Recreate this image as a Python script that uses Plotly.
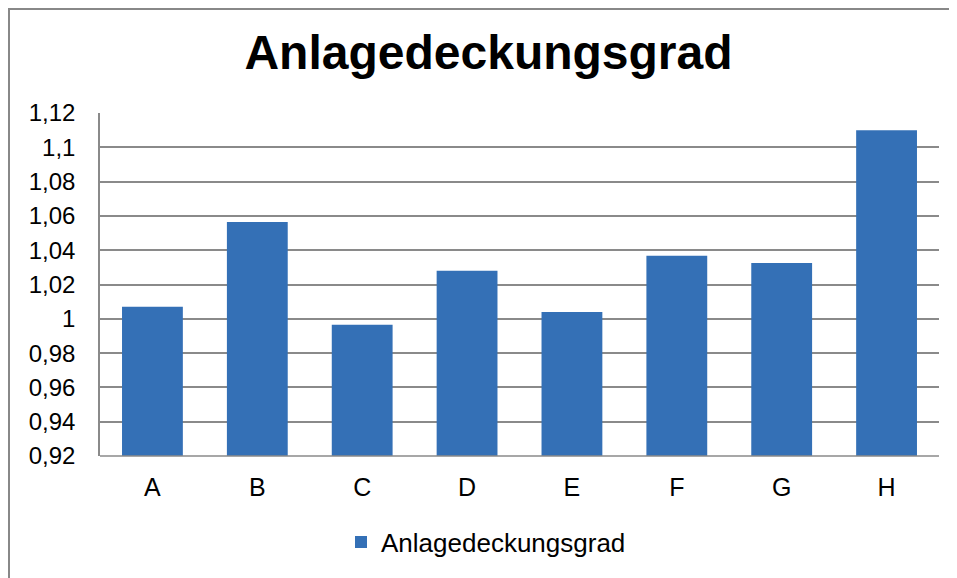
import plotly.graph_objects as go

categories = ["A", "B", "C", "D", "E", "F", "G", "H"]
values = [1.007, 1.0565, 0.9965, 1.028, 1.004, 1.0367, 1.0326, 1.110]
series_name = "Anlagedeckungsgrad"
title_text = "Anlagedeckungsgrad"

# page has an 8px body margin; layout is computed in figure pixels
OFF = 8
W, H = 957 - OFF, 578 - OFF
L, R, T, B = 100 - OFF, 18, 113 - OFF, 122
pw, ph = W - L - R, H - T - B

def px_x(p):
    return (p - L) / pw

def px_y(p):
    return (H - B - p) / ph

fig = go.Figure()
fig.add_trace(go.Bar(
    x=categories, y=values, name=series_name,
    marker=dict(color="#3470B6", line=dict(width=0)),
    showlegend=True,
))

font_family = "Liberation Sans, Arial, sans-serif"

fig.update_layout(
    width=W, height=H,
    margin=dict(l=L, r=R, t=T, b=B, autoexpand=False),
    paper_bgcolor="white", plot_bgcolor="white",
    separators=",.",
    bargap=0.42,
    font=dict(family=font_family, color="black"),
    title=dict(text=title_text, font=dict(size=48, family=font_family, color="black", weight="bold"),
               x=(488.5 - OFF) / W, xanchor="center", xref="container",
               y=1 - (52 - OFF) / H, yanchor="middle", yref="container"),
    showlegend=True,
    legend=dict(orientation="h", xref="container", yref="container",
                x=(486 - OFF) / W, xanchor="center", y=1 - (542 - OFF) / H, yanchor="middle",
                font=dict(size=26, family=font_family, color="black"),
                itemwidth=30),
    xaxis=dict(showgrid=False, showline=False, ticks="",
               tickfont=dict(size=25, family=font_family), ticklabelstandoff=14),
    yaxis=dict(range=[0.92, 1.12], tick0=0.92, dtick=0.02, showgrid=True,
               gridcolor="#8a8a8a", gridwidth=1.5, zeroline=False,
               showline=True, linecolor="#8a8a8a", linewidth=1.5, ticks="",
               tickfont=dict(size=24, family=font_family), ticklabelstandoff=18),
)

# outer chart frame (cut at right and bottom edges in the reference)
fig.add_shape(type="line", xref="paper", yref="paper",
              x0=px_x(0), x1=px_x(W + 2), y0=px_y(1), y1=px_y(1),
              line=dict(color="#888888", width=2))
fig.add_shape(type="line", xref="paper", yref="paper",
              x0=px_x(1), x1=px_x(1), y0=px_y(0), y1=px_y(H + 2),
              line=dict(color="#888888", width=2))
# bottom axis line
fig.add_shape(type="line", xref="paper", yref="paper",
              x0=0, x1=1, y0=0, y1=0, line=dict(color="#8a8a8a", width=1.5))

fig.write_html("out.html")
